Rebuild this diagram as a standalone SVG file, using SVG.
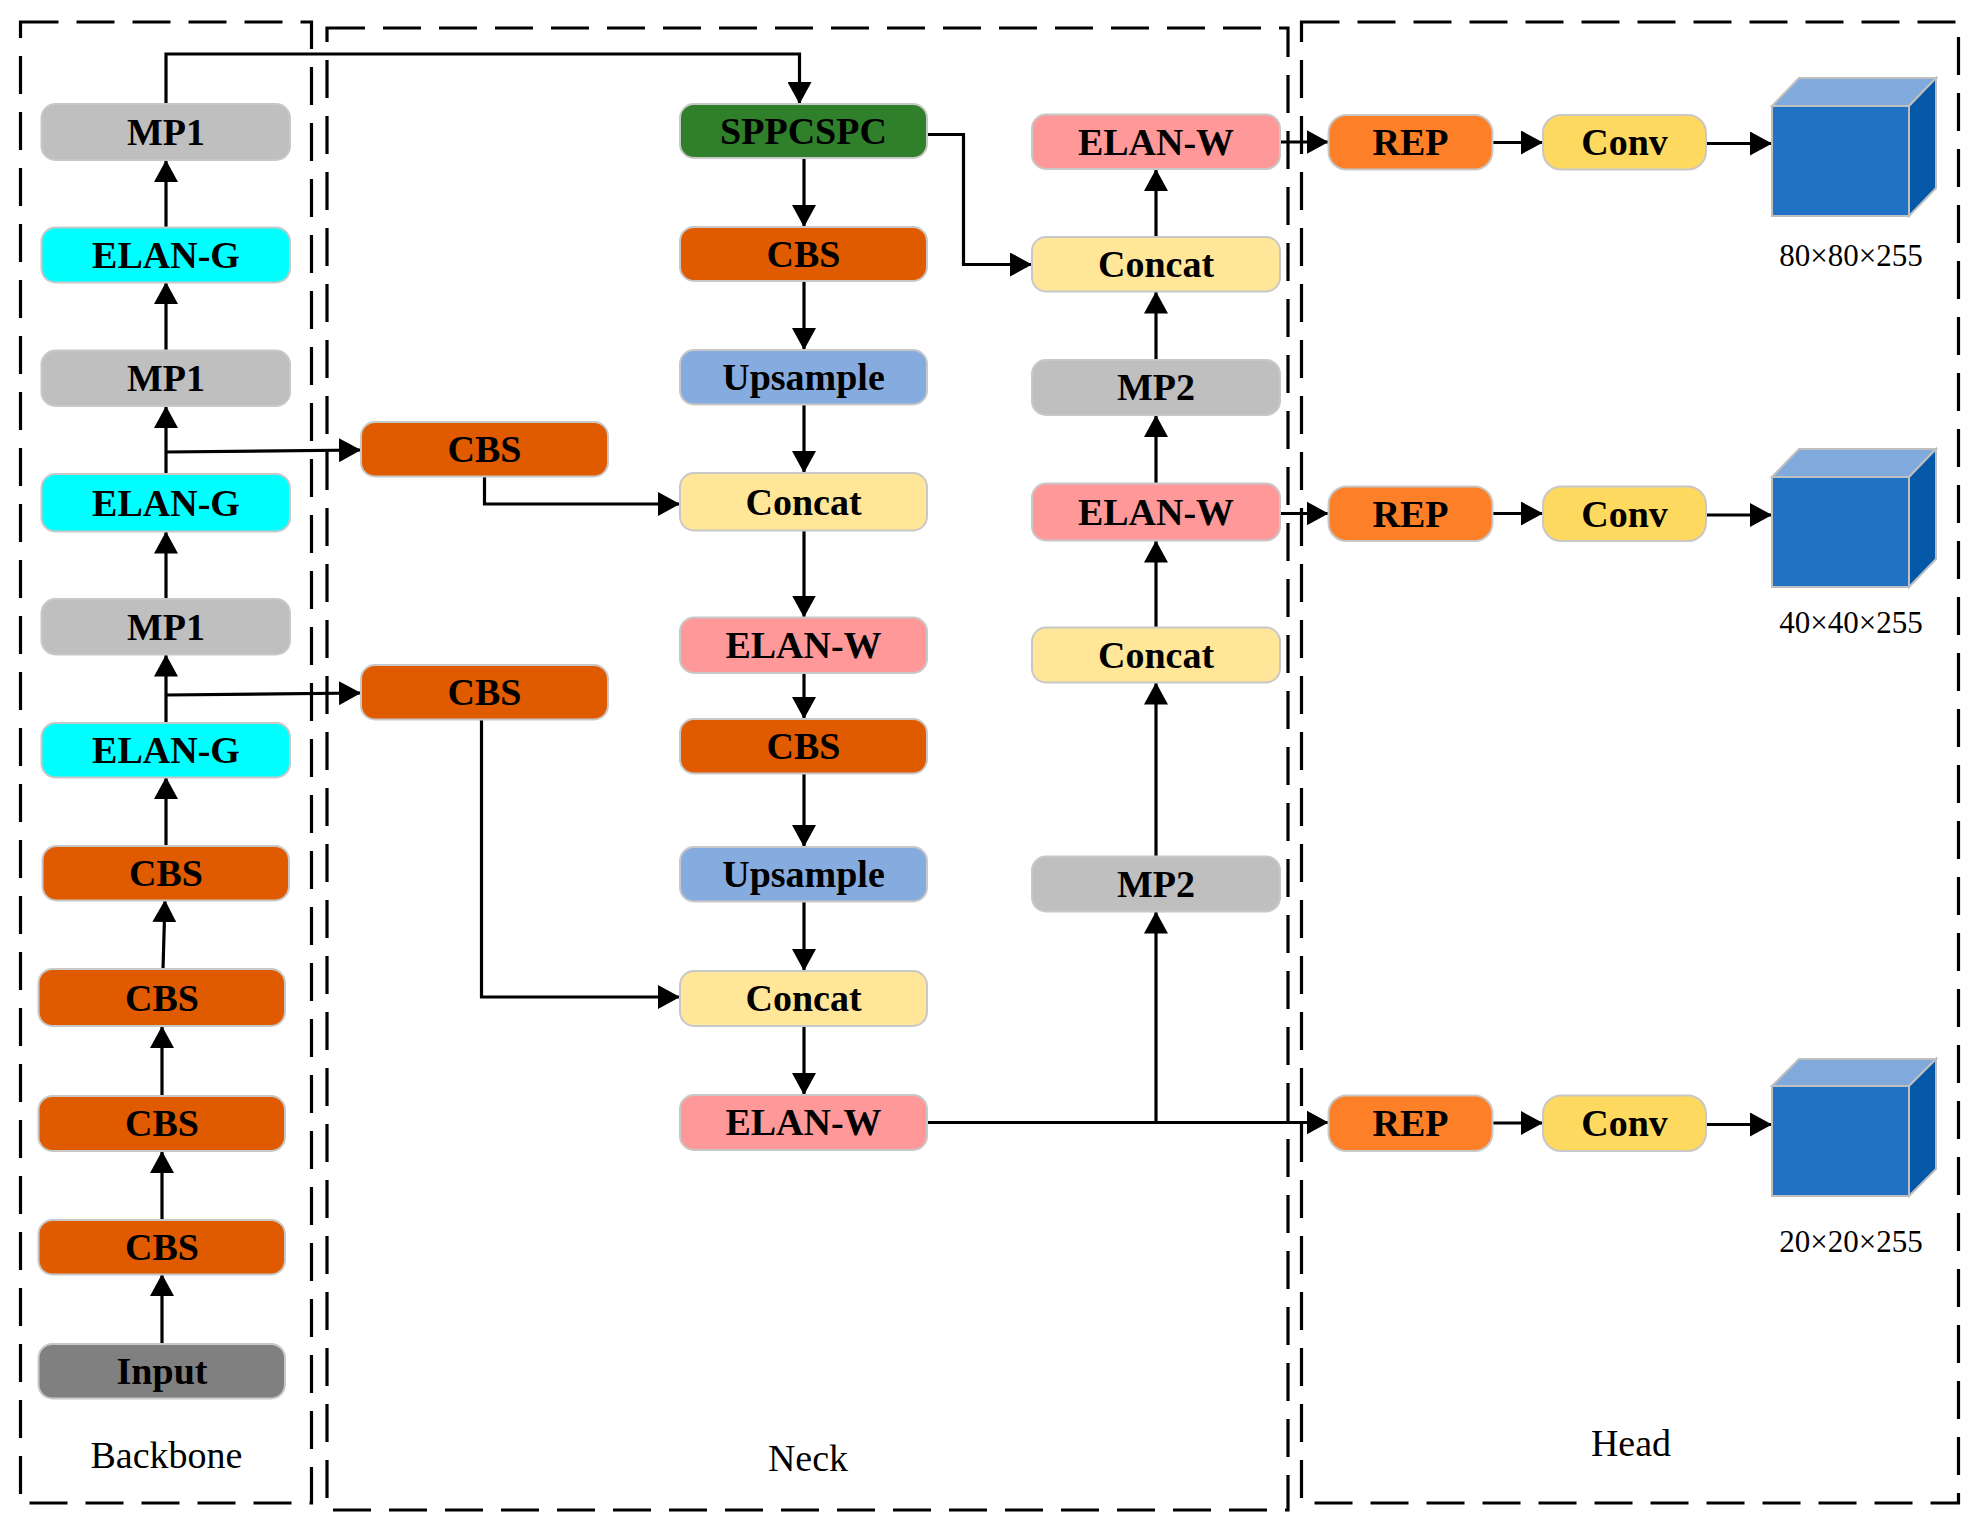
<svg xmlns="http://www.w3.org/2000/svg" width="1974" height="1526" viewBox="0 0 1974 1526">
<style>
.box{stroke:#c8c8c8;stroke-width:2}
.t{font-family:"Liberation Serif","Times New Roman",serif;font-weight:bold;font-size:38px;text-anchor:middle;fill:#000}
.lbl{font-family:"Liberation Serif","Times New Roman",serif;font-size:38px;text-anchor:middle;fill:#000}
.dim{font-family:"Liberation Serif","Times New Roman",serif;font-size:31px;text-anchor:middle;fill:#000}
.frame{fill:none;stroke:#000;stroke-width:3.2;stroke-dasharray:38 18}
.c{fill:none;stroke:#000;stroke-width:3.2}
.a{fill:none;stroke:#000;stroke-width:3.2;marker-end:url(#arr)}
.mp{fill:#bfbfbf}.eg{fill:#00ffff}.cbs{fill:#e05b00}.inp{fill:#808080}.spp{fill:#2f7f2b}
.up{fill:#86abdf}.cc{fill:#ffe699}.ew{fill:#ff9999}.rep{fill:#fd7f28}.conv{fill:#fed95f}
.cf{fill:#2072c5;stroke:#bfbfbf;stroke-width:2}.ct{fill:#80aadc;stroke:#bfbfbf;stroke-width:2}.cs{fill:#0558a8;stroke:#bfbfbf;stroke-width:2}
</style>
<defs>
<marker id="arr" markerUnits="userSpaceOnUse" markerWidth="22" markerHeight="24" refX="22" refY="12" orient="auto">
<path d="M0,0 L22,12 L0,24 z" fill="#000"/>
</marker>
</defs>
<rect width="1974" height="1526" fill="#fff"/>
<g id="frames">
<rect class="frame" x="20.5" y="22" width="291" height="1481"/>
<rect class="frame" x="327" y="28" width="961" height="1482"/>
<rect class="frame" x="1301.5" y="22" width="657" height="1481"/>
<text class="lbl" x="166.5" y="1468" font-size="37">Backbone</text>
<text class="lbl" x="808" y="1471">Neck</text>
<text class="lbl" x="1631" y="1456">Head</text>
</g>
<g id="connectors">
<!-- backbone up arrows -->
<line class="a" x1="162" y1="1344" x2="162" y2="1274"/>
<line class="a" x1="162" y1="1220" x2="162" y2="1151"/>
<line class="a" x1="162" y1="1096" x2="162" y2="1026"/>
<line class="a" x1="163" y1="969" x2="165" y2="900"/>
<line class="a" x1="166" y1="846" x2="166" y2="777"/>
<line class="a" x1="166" y1="723" x2="166" y2="654.5"/>
<line class="a" x1="166" y1="599" x2="166" y2="531.5"/>
<line class="a" x1="166" y1="474" x2="166" y2="406"/>
<line class="a" x1="166" y1="350.5" x2="166" y2="282"/>
<line class="a" x1="166" y1="227.5" x2="166" y2="160"/>
<!-- branches -->
<polyline class="a" points="166,452 361,450"/>
<polyline class="a" points="166,695 361,693"/>
<polyline class="a" points="166,104 166,54 799.5,54 799.5,104"/>
<polyline class="a" points="484.5,476.5 484.5,504 680,504"/>
<polyline class="a" points="481.5,719.5 481.5,997 680,997"/>
<polyline class="a" points="927,134.5 963.5,134.5 963.5,264.5 1032,264.5"/>
<!-- center column down arrows -->
<line class="a" x1="804" y1="158" x2="804" y2="227"/>
<line class="a" x1="804" y1="281" x2="804" y2="350"/>
<line class="a" x1="804" y1="404.5" x2="804" y2="473"/>
<line class="a" x1="804" y1="530.5" x2="804" y2="617.5"/>
<line class="a" x1="804" y1="673" x2="804" y2="719"/>
<line class="a" x1="804" y1="773.5" x2="804" y2="847"/>
<line class="a" x1="804" y1="901.5" x2="804" y2="971"/>
<line class="a" x1="804" y1="1026" x2="804" y2="1095"/>
<!-- bottom ELAN-W out -->
<line class="a" x1="927" y1="1122.5" x2="1328.5" y2="1122.5"/>
<line class="a" x1="1156" y1="1122.5" x2="1156" y2="911.5"/>
<!-- right column up arrows -->
<line class="a" x1="1156" y1="856.5" x2="1156" y2="682.5"/>
<line class="a" x1="1156" y1="627.5" x2="1156" y2="540.5"/>
<line class="a" x1="1156" y1="483.5" x2="1156" y2="415"/>
<line class="a" x1="1156" y1="360" x2="1156" y2="291.5"/>
<line class="a" x1="1156" y1="237" x2="1156" y2="169"/>
<!-- to head -->
<line class="a" x1="1280" y1="142" x2="1328.5" y2="142"/>
<line class="a" x1="1280" y1="513.5" x2="1328.5" y2="513.5"/>
<line class="a" x1="1492.5" y1="142.5" x2="1543" y2="142.5"/>
<line class="a" x1="1492.5" y1="513.5" x2="1543" y2="513.5"/>
<line class="a" x1="1492.5" y1="1123" x2="1543" y2="1123"/>
<line class="a" x1="1706" y1="143.5" x2="1772" y2="143.5"/>
<line class="a" x1="1706" y1="515" x2="1772" y2="515"/>
<line class="a" x1="1706" y1="1124.5" x2="1772" y2="1124.5"/>
</g>
<g id="n_bb_mp1a"><rect class="box mp" x="41.5" y="104" width="248.5" height="56" rx="14"/><text class="t" x="166" y="145">MP1</text></g>
<g id="n_bb_elang_a"><rect class="box eg" x="41.5" y="227.5" width="248.5" height="55" rx="14"/><text class="t" x="166" y="268">ELAN-G</text></g>
<g id="n_bb_mp1b"><rect class="box mp" x="41.5" y="350.5" width="248.5" height="55.5" rx="14"/><text class="t" x="166" y="391">MP1</text></g>
<g id="n_bb_elang_b"><rect class="box eg" x="41.5" y="474" width="248.5" height="57.5" rx="14"/><text class="t" x="166" y="516">ELAN-G</text></g>
<g id="n_bb_mp1c"><rect class="box mp" x="41.5" y="599" width="248.5" height="55.5" rx="14"/><text class="t" x="166" y="640">MP1</text></g>
<g id="n_bb_elang_c"><rect class="box eg" x="41.5" y="723" width="248.5" height="54.5" rx="14"/><text class="t" x="166" y="763">ELAN-G</text></g>
<g id="n_bb_cbs1"><rect class="box cbs" x="42.5" y="846" width="246.5" height="54.5" rx="14"/><text class="t" x="166" y="886">CBS</text></g>
<g id="n_bb_cbs2"><rect class="box cbs" x="38.5" y="969" width="246.5" height="57" rx="14"/><text class="t" x="162" y="1011">CBS</text></g>
<g id="n_bb_cbs3"><rect class="box cbs" x="38.5" y="1096" width="246.5" height="55" rx="14"/><text class="t" x="162" y="1136">CBS</text></g>
<g id="n_bb_cbs4"><rect class="box cbs" x="38.5" y="1220" width="246.5" height="54.5" rx="14"/><text class="t" x="162" y="1260">CBS</text></g>
<g id="n_bb_input"><rect class="box inp" x="38.5" y="1344" width="246.5" height="54.5" rx="14"/><text class="t" x="162" y="1384">Input</text></g>
<g id="n_nk_cbs_a"><rect class="box cbs" x="361" y="422" width="247" height="54.5" rx="14"/><text class="t" x="484.5" y="462">CBS</text></g>
<g id="n_nk_cbs_b"><rect class="box cbs" x="361" y="665" width="247" height="54.5" rx="14"/><text class="t" x="484.5" y="705">CBS</text></g>
<g id="n_nk_spp"><rect class="box spp" x="680" y="104" width="247" height="54" rx="14"/><text class="t" x="803.5" y="144">SPPCSPC</text></g>
<g id="n_nk_cbs1"><rect class="box cbs" x="680" y="227" width="247" height="54" rx="14"/><text class="t" x="803.5" y="267">CBS</text></g>
<g id="n_nk_up1"><rect class="box up" x="680" y="350" width="247" height="54.5" rx="14"/><text class="t" x="803.5" y="390">Upsample</text></g>
<g id="n_nk_concat1"><rect class="box cc" x="680" y="473" width="247" height="57.5" rx="14"/><text class="t" x="803.5" y="515">Concat</text></g>
<g id="n_nk_elanw1"><rect class="box ew" x="680" y="617.5" width="247" height="55.5" rx="14"/><text class="t" x="803.5" y="658">ELAN-W</text></g>
<g id="n_nk_cbs2"><rect class="box cbs" x="680" y="719" width="247" height="54.5" rx="14"/><text class="t" x="803.5" y="759">CBS</text></g>
<g id="n_nk_up2"><rect class="box up" x="680" y="847" width="247" height="54.5" rx="14"/><text class="t" x="803.5" y="887">Upsample</text></g>
<g id="n_nk_concat2"><rect class="box cc" x="680" y="971" width="247" height="55" rx="14"/><text class="t" x="803.5" y="1011">Concat</text></g>
<g id="n_nk_elanw2"><rect class="box ew" x="680" y="1095" width="247" height="55" rx="14"/><text class="t" x="803.5" y="1135">ELAN-W</text></g>
<g id="n_nk_elanw_r1"><rect class="box ew" x="1032" y="114.5" width="248" height="54.5" rx="14"/><text class="t" x="1156" y="155">ELAN-W</text></g>
<g id="n_nk_concat_r1"><rect class="box cc" x="1032" y="237" width="248" height="54.5" rx="14"/><text class="t" x="1156" y="277">Concat</text></g>
<g id="n_nk_mp2a"><rect class="box mp" x="1032" y="360" width="248" height="55" rx="14"/><text class="t" x="1156" y="400">MP2</text></g>
<g id="n_nk_elanw_r2"><rect class="box ew" x="1032" y="483.5" width="248" height="57" rx="14"/><text class="t" x="1156" y="525">ELAN-W</text></g>
<g id="n_nk_concat_r2"><rect class="box cc" x="1032" y="627.5" width="248" height="55" rx="14"/><text class="t" x="1156" y="668">Concat</text></g>
<g id="n_nk_mp2b"><rect class="box mp" x="1032" y="856.5" width="248" height="55" rx="14"/><text class="t" x="1156" y="897">MP2</text></g>
<g id="n_hd_rep1"><rect class="box rep" x="1328.5" y="115" width="164" height="54.5" rx="18"/><text class="t" x="1410.5" y="155">REP</text></g>
<g id="n_hd_conv1"><rect class="box conv" x="1543" y="115" width="163" height="54.5" rx="18"/><text class="t" x="1624.5" y="155">Conv</text></g>
<g id="n_hd_rep2"><rect class="box rep" x="1328.5" y="486.5" width="164" height="54.5" rx="18"/><text class="t" x="1410.5" y="527">REP</text></g>
<g id="n_hd_conv2"><rect class="box conv" x="1543" y="486.5" width="163" height="54.5" rx="18"/><text class="t" x="1624.5" y="527">Conv</text></g>
<g id="n_hd_rep3"><rect class="box rep" x="1328.5" y="1095.5" width="164" height="55.5" rx="18"/><text class="t" x="1410.5" y="1136">REP</text></g>
<g id="n_hd_conv3"><rect class="box conv" x="1543" y="1095.5" width="163" height="55.5" rx="18"/><text class="t" x="1624.5" y="1136">Conv</text></g>
<g id="n_out1">
<polygon class="ct" points="1772,106 1799,78 1936,78 1909,106"/>
<polygon class="cs" points="1909,106 1936,78 1936,188 1909,216"/>
<rect class="cf" x="1772" y="106" width="137" height="110"/>
<text class="dim" x="1851" y="266">80×80×255</text>
</g>
<g id="n_out2">
<polygon class="ct" points="1772,477 1799,449 1936,449 1909,477"/>
<polygon class="cs" points="1909,477 1936,449 1936,559 1909,587"/>
<rect class="cf" x="1772" y="477" width="137" height="110"/>
<text class="dim" x="1851" y="633">40×40×255</text>
</g>
<g id="n_out3">
<polygon class="ct" points="1772,1086 1799,1059 1936,1059 1909,1086"/>
<polygon class="cs" points="1909,1086 1936,1059 1936,1169 1909,1196"/>
<rect class="cf" x="1772" y="1086" width="137" height="110"/>
<text class="dim" x="1851" y="1252">20×20×255</text>
</g>
</svg>
